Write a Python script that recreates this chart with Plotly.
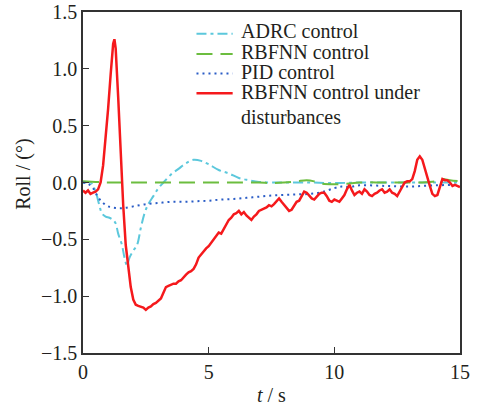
import plotly.graph_objects as go

# Time axis (s) and roll angle responses (deg)
t_adrc = [0.0, 0.3, 0.5, 0.65, 0.75, 0.9, 1.05, 1.2, 1.3, 1.4, 1.55, 1.65, 1.75, 1.85, 2.0,
          2.15, 2.3, 2.45, 2.6, 2.8, 3.0, 3.2, 3.5, 3.8, 4.1, 4.4, 4.7, 5.0, 5.4, 5.8, 6.2,
          6.6, 7.0, 7.5, 8.0, 9.0, 10.0, 11.0, 12.0, 13.0, 14.0, 15.0]
roll_adrc = [0.0, 0.0, -0.08, -0.2, -0.27, -0.3, -0.31, -0.33, -0.36, -0.45, -0.55, -0.66,
             -0.73, -0.66, -0.6, -0.55, -0.4, -0.27, -0.19, -0.12, -0.05, 0.0, 0.07, 0.12,
             0.17, 0.2, 0.19, 0.16, 0.11, 0.08, 0.04, 0.02, 0.005, 0.0, 0.0, 0.0, -0.005,
             0.0, 0.0, 0.0, 0.0, 0.0]

t_rbf = [0.0, 0.5, 1.0, 2.0, 3.0, 4.0, 5.0, 6.0, 7.0, 7.5, 8.0, 8.5, 8.9, 9.2, 9.5, 10.0,
         10.5, 11.0, 12.0, 13.0, 13.5, 14.0, 14.3, 14.6, 15.0]
roll_rbf = [0.01, 0.005, 0.0, 0.0, 0.0, 0.0, 0.0, 0.0, 0.0, -0.005, 0.0, 0.01, 0.02, 0.01,
            -0.01, -0.015, -0.01, 0.0, 0.0, 0.0, 0.0, 0.01, 0.03, 0.02, 0.01]

t_pid = [0.0, 0.2, 0.4, 0.6, 0.8, 1.0, 1.3, 1.6, 2.0, 2.5, 3.0, 3.5, 4.0, 4.5, 5.0, 5.5,
         6.0, 6.5, 7.0, 7.5, 8.0, 8.5, 9.0, 9.5, 10.0, 10.3, 10.6, 11.0, 12.0, 13.0, 14.0, 15.0]
roll_pid = [0.0, -0.01, -0.05, -0.13, -0.18, -0.21, -0.225, -0.225, -0.21, -0.19, -0.18,
            -0.17, -0.17, -0.165, -0.16, -0.15, -0.145, -0.135, -0.125, -0.115, -0.11,
            -0.105, -0.1, -0.085, -0.05, -0.035, -0.04, -0.025, -0.03, -0.035, -0.025, -0.02]

t_dist = [0.0, 0.1, 0.2, 0.3, 0.4, 0.5, 0.6, 0.7, 0.8, 0.9, 1.0, 1.1, 1.2, 1.25, 1.3, 1.4,
          1.5, 1.6, 1.7, 1.8, 1.9, 2.0, 2.1, 2.2, 2.3, 2.4, 2.5, 2.6, 2.7, 2.8, 2.9, 3.0,
          3.1, 3.2, 3.3, 3.4, 3.5, 3.6, 3.7, 3.8, 3.9, 4.0, 4.1, 4.2, 4.3, 4.4, 4.5, 4.6,
          4.7, 4.8, 4.9, 5.0, 5.1, 5.2, 5.3, 5.4, 5.5, 5.6, 5.7, 5.8, 5.9, 6.0, 6.1, 6.2,
          6.3, 6.4, 6.5, 6.6, 6.7, 6.8, 6.9, 7.0, 7.1, 7.2, 7.3, 7.4, 7.5, 7.6, 7.7, 7.8,
          7.9, 8.0, 8.1, 8.2, 8.3, 8.4, 8.5, 8.6, 8.7, 8.8, 8.9, 9.0, 9.1, 9.2, 9.3, 9.4,
          9.5, 9.6, 9.7, 9.8, 9.9, 10.0, 10.1, 10.2, 10.3, 10.4, 10.5, 10.6, 10.7, 10.8,
          10.9, 11.0, 11.1, 11.2, 11.3, 11.4, 11.5, 11.6, 11.7, 11.8, 11.9, 12.0, 12.1,
          12.2, 12.3, 12.4, 12.5, 12.6, 12.7, 12.8, 12.9, 13.0, 13.1, 13.2, 13.3, 13.4,
          13.5, 13.6, 13.7, 13.8, 13.9, 14.0, 14.1, 14.2, 14.3, 14.4, 14.5, 14.6, 14.7,
          14.8, 14.9, 15.0]
roll_dist = [-0.07, -0.09, -0.07, -0.1, -0.09, -0.08, -0.06, 0.0, 0.15, 0.38, 0.65, 0.95,
             1.22, 1.26, 1.18, 0.75, 0.2, -0.2, -0.55, -0.76, -0.92, -1.03, -1.075, -1.085,
             -1.09, -1.1, -1.12, -1.1, -1.09, -1.07, -1.06, -1.04, -1.02, -0.97, -0.92,
             -0.91, -0.9, -0.89, -0.89, -0.87, -0.86, -0.83, -0.81, -0.79, -0.78, -0.76,
             -0.72, -0.66, -0.63, -0.6, -0.58, -0.56, -0.53, -0.51, -0.48, -0.44, -0.45,
             -0.41, -0.38, -0.33, -0.31, -0.28, -0.27, -0.25, -0.28, -0.26, -0.29, -0.31,
             -0.33, -0.3, -0.28, -0.25, -0.24, -0.23, -0.22, -0.2, -0.21, -0.19, -0.16,
             -0.14, -0.17, -0.2, -0.23, -0.25, -0.24, -0.2, -0.17, -0.16, -0.12, -0.08,
             -0.09, -0.12, -0.14, -0.15, -0.12, -0.1, -0.09, -0.09, -0.12, -0.16, -0.17,
             -0.15, -0.16, -0.17, -0.14, -0.11, -0.06, -0.02, -0.07, -0.11, -0.09, -0.08,
             -0.1, -0.06, -0.08, -0.11, -0.12, -0.1, -0.09, -0.07, -0.06, -0.09, -0.08,
             -0.06, -0.09, -0.1, -0.12, -0.08, -0.03, 0.0, 0.01, 0.01, 0.03, 0.1, 0.2, 0.23,
             0.2, 0.12, 0.03, -0.03, -0.1, -0.12, -0.11, -0.03, 0.03, 0.02, 0.02, 0.0,
             -0.03, -0.02, -0.03, -0.04]

labels = ["ADRC control", "RBFNN control", "PID control",
          "RBFNN control under disturbances"]
x_ticks = [0, 5, 10, 15]
y_ticks = [-1.5, -1.0, -0.5, 0.0, 0.5, 1.0, 1.5]

FONT = "Liberation Serif"
TXT = "#231f20"
C_ADRC, C_RBF, C_PID, C_DIST = "#5cc8dc", "#6cbd3f", "#2a5cc6", "#f5191c"
DASH_ADRC = "10px,4px,3px,4px"
DASH_RBF = "16px,8px"
DASH_PID = "2px,4px"

fig = go.Figure()
fig.add_trace(go.Scatter(x=t_adrc, y=roll_adrc, mode="lines", name=labels[0],
                         line=dict(color=C_ADRC, width=2, dash=DASH_ADRC, shape="spline")))
fig.add_trace(go.Scatter(x=t_rbf, y=roll_rbf, mode="lines", name=labels[1],
                         line=dict(color=C_RBF, width=2, dash=DASH_RBF, shape="spline")))
fig.add_trace(go.Scatter(x=t_pid, y=roll_pid, mode="lines", name=labels[2],
                         line=dict(color=C_PID, width=2, dash=DASH_PID, shape="spline")))
fig.add_trace(go.Scatter(x=t_dist, y=roll_dist, mode="lines", name=labels[3],
                         line=dict(color=C_DIST, width=2.5)))

# Hand-placed legend: key lines as shapes, labels as annotations
key_x0, key_x1, text_x = 0.301, 0.397, 0.416
key_rows = [0.9360, 0.8770, 0.8198, 0.7618]
key_styles = [(C_ADRC, DASH_ADRC, 2), (C_RBF, DASH_RBF, 2), (C_PID, DASH_PID, 2),
              (C_DIST, "solid", 2.5)]
# label lines (the last entry wraps onto a second line)
text_lines = [labels[0], labels[1], labels[2], "RBFNN control under", "disturbances"]
text_rows = [0.9443, 0.8819, 0.8242, 0.7665, 0.6932]

shapes = []
annotations = []
for ky, (col, dsh, w) in zip(key_rows, key_styles):
    shapes.append(dict(type="line", xref="paper", yref="paper", x0=key_x0, x1=key_x1,
                       y0=ky, y1=ky, line=dict(color=col, width=w, dash=dsh)))
for txt, ty in zip(text_lines, text_rows):
    annotations.append(dict(xref="paper", yref="paper", x=text_x, y=ty, text=txt,
                            showarrow=False, xanchor="left", yanchor="middle",
                            align="left", borderpad=0,
                            font=dict(family=FONT, size=20, color=TXT)))

annotations.append(dict(xref="paper", yref="paper", x=-0.157, y=0.525, text="Roll / (°)",
                        textangle=-90, showarrow=False, xanchor="center", yanchor="middle",
                        font=dict(family=FONT, size=20, color=TXT)))
annotations.append(dict(xref="paper", yref="paper", x=0.5, y=-0.122, text="<i>t</i> / s",
                        showarrow=False, xanchor="center", yanchor="middle",
                        font=dict(family=FONT, size=20, color=TXT)))

axis_common = dict(showgrid=False, zeroline=False, showline=True, linecolor="#333333",
                   linewidth=1.5, mirror=True, ticks="inside", ticklen=6, tickwidth=1.2,
                   tickcolor="#333333", automargin=False,
                   tickfont=dict(family=FONT, size=20, color=TXT))

fig.update_layout(
    width=478, height=407,
    margin=dict(l=83.3, r=18, t=12, b=53.7),
    paper_bgcolor="white", plot_bgcolor="white",
    font=dict(family=FONT, size=20, color=TXT),
    showlegend=False,
    shapes=shapes, annotations=annotations,
    xaxis=dict(range=[0, 15], tickvals=x_ticks, ticktext=[str(v) for v in x_ticks],
               **axis_common),
    yaxis=dict(range=[-1.5, 1.5], tickvals=y_ticks,
               ticktext=[f"{v:.1f}".replace("-", "\u2212") for v in y_ticks],
               **axis_common),
)

fig.write_html("out.html")
